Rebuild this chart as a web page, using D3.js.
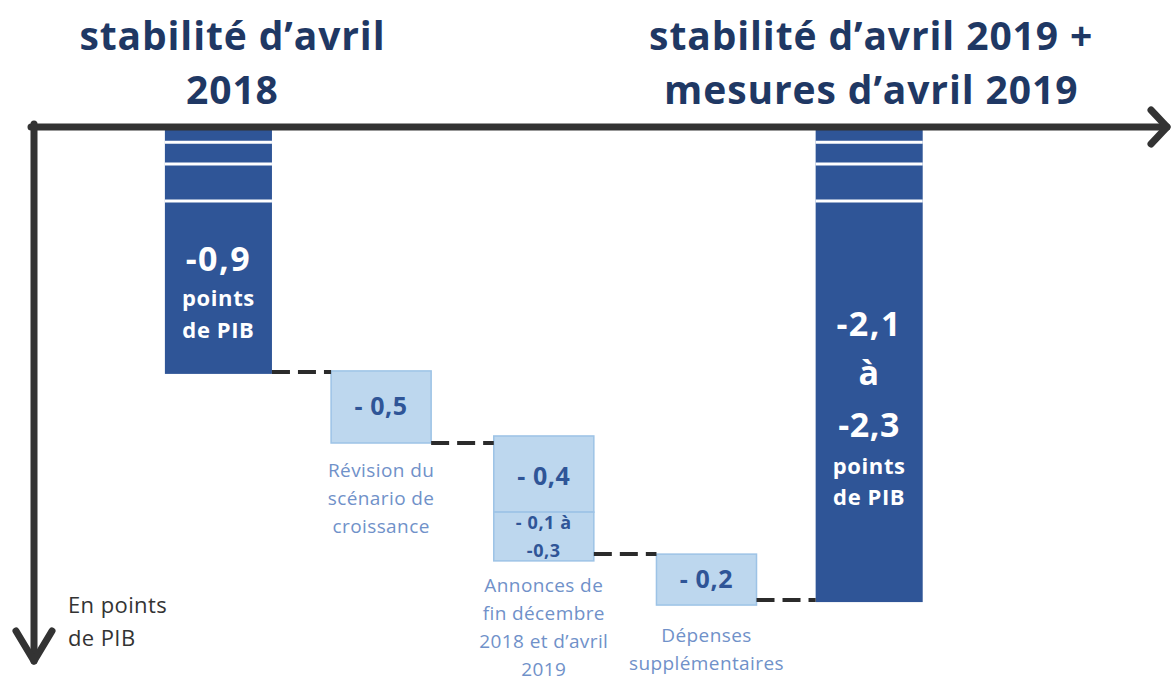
<!DOCTYPE html>
<html>
<head>
<meta charset="utf-8">
<script src="https://cdn.jsdelivr.net/npm/d3@7"></script>
<style>
  body { margin: 0; background: #fff; }
  svg { display: block; font-family: "Open Sans", "Noto Sans", sans-serif; }
</style>
</head>
<body>
<div id="chart"></div>
<script>
// categories along the horizontal axis
const categories = ["avril2018", "revision", "annonces", "depenses", "avril2019"];

// drawn segments (schematic depth in points de PIB, as shown in the picture)
const segCategory = [0, 1, 2, 2, 3, 4];
const segStart = [0, 0.889, 1.129, 1.41, 1.565, 0];
const segEnd = [0.9, 1.155, 1.41, 1.59, 1.753, 1.742];
const segTotal = [true, false, false, false, false, true];
const segLabels = [
  ["-0,9", "points", "de PIB"],
  ["- 0,5"],
  ["- 0,4"],
  ["- 0,1 à", "-0,3"],
  ["- 0,2"],
  ["-2,1", "à", "-2,3", "points", "de PIB"]
];

// dashed connectors: from category i to i+1 at a given depth
const connFrom = [0, 1, 2, 3];
const connLevel = [0.893, 1.155, 1.565, 1.734];

// stripes near the top of the total bars (axis break)
const breakLevels = [0.045, 0.125, 0.262];

// titles and captions
const titles = [
  {cat: 0, lines: ["stabilité d’avril", "2018"]},
  {cat: 4, lines: ["stabilité d’avril 2019 +", "mesures d’avril 2019"]}
];
const captions = [
  {cat: 1, lines: ["Révision du", "scénario de", "croissance"], top: 477},
  {cat: 2, lines: ["Annonces de", "fin décembre", "2018 et d’avril", "2019"], top: 592},
  {cat: 3, lines: ["Dépenses", "supplémentaires"], top: 642}
];

const width = 1173, height = 685;
const dark = "#2f5597", light = "#bdd7ee", lightStroke = "#9dc3e6";
const axisColor = "#333";

const svg = d3.select("#chart").append("svg")
  .attr("width", width)
  .attr("height", height);

const x = d3.scaleBand()
  .domain(categories)
  .range([168.4, 919.2])
  .paddingInner(0.385)
  .paddingOuter(0);

const y = d3.scaleLinear()
  .domain([0, 2])
  .range([130, 672]);

const bw = x.bandwidth();
const cx = i => x(categories[i]) + bw / 2;

// titles
titles.forEach(t => {
  svg.append("g").selectAll("text")
    .data(t.lines)
    .enter()
    .append("text")
    .attr("x", cx(t.cat) + (t.cat === 4 ? 2 : 14))
    .attr("y", (d, i) => 50 + i * 54)
    .attr("text-anchor", "middle")
    .attr("font-size", 39)
    .attr("font-weight", 700)
    .attr("letter-spacing", 0.9)
    .attr("fill", "#1f3864")
    .text(d => d);
});

// bars / boxes
const segs = segCategory.map((c, i) => ({
  cat: c, y0: segStart[i], y1: segEnd[i], total: segTotal[i], lines: segLabels[i]
}));

svg.append("g").selectAll("rect")
  .data(segs)
  .enter()
  .append("rect")
  .attr("x", d => d.total ? cx(d.cat) - bw * 0.535 : x(categories[d.cat]))
  .attr("width", d => d.total ? bw * 1.07 : bw)
  .attr("y", d => y(d.y0))
  .attr("height", d => y(d.y1) - y(d.y0))
  .attr("fill", d => d.total ? dark : light)
  .attr("stroke", d => d.total ? "none" : lightStroke)
  .attr("stroke-width", 1.5);

// white stripes on total bars
segs.filter(d => d.total).forEach(d => {
  svg.append("g").selectAll("line")
    .data(breakLevels)
    .enter()
    .append("line")
    .attr("x1", cx(d.cat) - bw * 0.535)
    .attr("x2", cx(d.cat) + bw * 0.535)
    .attr("y1", v => y(v))
    .attr("y2", v => y(v))
    .attr("stroke", "#fff")
    .attr("stroke-width", 3);
});

// connectors
svg.append("g").selectAll("line")
  .data(connFrom)
  .enter()
  .append("line")
  .attr("x1", (c, i) => cx(c) + (segs.find(s => s.cat === c).total ? bw * 0.535 : bw / 2))
  .attr("x2", (c, i) => cx(c + 1) - (c + 1 === 4 ? bw * 0.535 : bw / 2))
  .attr("y1", (c, i) => y(connLevel[i]))
  .attr("y2", (c, i) => y(connLevel[i]))
  .attr("stroke", "#2b2b2b")
  .attr("stroke-width", 4)
  .attr("stroke-dasharray", "18,8");

// labels inside the bars and boxes
const labelLayout = [
  {base: 271, gap: [0, 35, 32], size: [34, 22, 22]},
  {base: 415, gap: [0], size: [25]},
  {base: 485, gap: [0], size: [25]},
  {base: 529, gap: [0, 28], size: [18, 18]},
  {base: 588, gap: [0], size: [25]},
  {base: 336, gap: [0, 49, 52, 37, 31], size: [34, 34, 34, 22, 22]}
];
segs.forEach((d, si) => {
  let yy = labelLayout[si].base;
  d.lines.forEach((line, li) => {
    yy += labelLayout[si].gap[li];
    svg.append("text")
      .attr("x", cx(d.cat))
      .attr("y", yy)
      .attr("text-anchor", "middle")
      .attr("font-size", labelLayout[si].size[li])
      .attr("font-weight", 700)
      .attr("letter-spacing", li === 0 && d.total ? 1.5 : 0.6)
      .attr("fill", d.total ? "#fff" : dark)
      .text(line);
  });
});

// captions under the boxes
captions.forEach(c => {
  svg.append("g").selectAll("text")
    .data(c.lines)
    .enter()
    .append("text")
    .attr("x", cx(c.cat))
    .attr("y", (d, i) => c.top + i * 28)
    .attr("text-anchor", "middle")
    .attr("font-size", 19)
    .attr("letter-spacing", 0.4)
    .attr("fill", "#7091c9")
    .text(d => d);
});

// axes (arrows)
const axis = svg.append("g")
  .attr("stroke", axisColor)
  .attr("stroke-width", 7)
  .attr("fill", "none")
  .attr("stroke-linecap", "round")
  .attr("stroke-linejoin", "round");
axis.append("line").attr("x1", 31).attr("y1", 127).attr("x2", 1167).attr("y2", 127);
axis.append("polyline").attr("points", "1151,110 1167,127 1151,144");
axis.append("line").attr("x1", 34).attr("y1", 124).attr("x2", 34).attr("y2", 661);
axis.append("polyline").attr("points", "16,631 34,661 52,631");

svg.append("g").selectAll("text")
  .data(["En points", "de PIB"])
  .enter()
  .append("text")
  .attr("x", 68)
  .attr("y", (d, i) => 613 + i * 33)
  .attr("font-size", 22)
  .attr("letter-spacing", 0.4)
  .attr("fill", "#333")
  .text(d => d);
</script>
</body>
</html>
